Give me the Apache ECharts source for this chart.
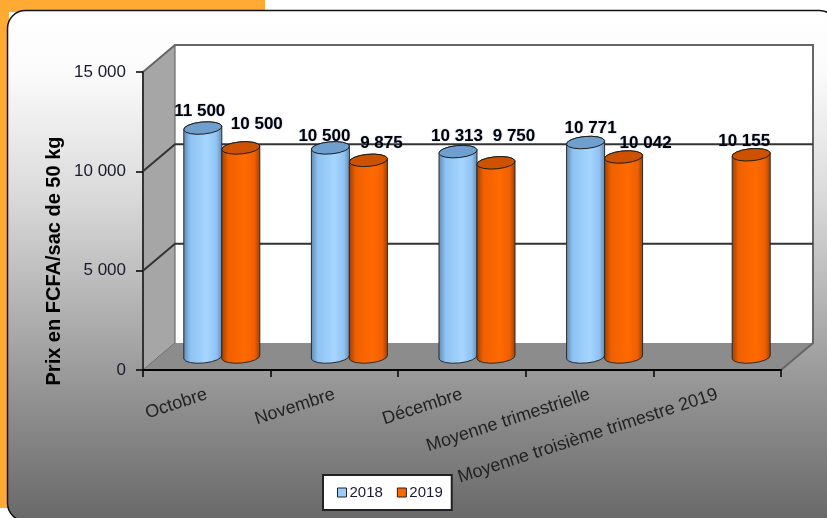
<!DOCTYPE html>
<html>
<head>
<meta charset="utf-8">
<title>Prix en FCFA/sac de 50 kg</title>
<script src="https://cdn.jsdelivr.net/npm/echarts@6/dist/echarts.min.js"></script>
<style>
html, body { margin: 0; padding: 0; background: #fff; }
#chart { width: 827px; height: 518px; }
</style>
</head>
<body>
<div id="chart"></div>
<script>
const categories = ["Octobre", "Novembre", "Décembre", "Moyenne trimestrielle", "Moyenne troisième trimestre 2019"];
const values2018 = [11500, 10500, 10313, 10771, null];
const values2019 = [10500, 9875, 9750, 10042, 10155];
const yTicks = [0, 5000, 10000, 15000];
const yTitle = "Prix en FCFA/sac de 50 kg";

// depth of the fake 3D box, in pixels
const DEPTH_X = 32;
const DEPTH_Y = 27;
const BAR_RX = 19;
const BAR_RY = 6;
const BAR_TILT = 2;

// hand placed labels, the original has them dragged around [dx, dy] from the top of the bar
const nudge2018 = [[-3, -17], [-6, -12], [-1, -15], [5, -14], [0, 0]];
const nudge2019 = [[16, -24], [13, -17], [18, -26], [22, -14], [-7, -13]];

function fmt(v) {
  return String(v).replace(/\B(?=(\d{3})+$)/g, " ");
}

function renderBox(params, api) {
  const r = params.coordSys;
  const x0 = r.x, x1 = r.x + r.width, top = r.y, bottom = r.y + r.height;
  const bx0 = x0 + DEPTH_X, bx1 = x1 + DEPTH_X;
  const children = [
    { type: "rect", shape: { x: bx0, y: top - DEPTH_Y, width: r.width, height: r.height },
      style: { fill: "#fff" } },
    { type: "polygon", shape: { points: [[x0, top], [bx0, top - DEPTH_Y], [bx0, bottom - DEPTH_Y], [x0, bottom]] },
      style: { fill: "#a6a6a6", stroke: "#555", lineWidth: 1 } },
    { type: "polygon", shape: { points: [[x0, bottom], [bx0, bottom - DEPTH_Y], [bx1, bottom - DEPTH_Y], [x1, bottom]] },
      style: { fill: "#8c8c8c" } },
    { type: "polyline", shape: { points: [[x0, top], [bx0, top - DEPTH_Y], [bx1, top - DEPTH_Y], [bx1, bottom - DEPTH_Y], [x1, bottom]] },
      style: { fill: "none", stroke: "#666", lineWidth: 2 } }
  ];
  yTicks.slice(1, -1).forEach(function (t) {
    const y = api.coord([0, t])[1];
    children.push({ type: "polyline",
      shape: { points: [[x0, y], [bx0, y - DEPTH_Y], [bx1, y - DEPTH_Y]] },
      style: { fill: "none", stroke: "#333", lineWidth: 2 } });
  });
  return { type: "group", children: children };
}

function cylinderRenderer(side, colors, nudge) {
  return function (params, api) {
    const v = api.value(1);
    if (v == null || isNaN(v)) return;
    const i = api.value(0);
    const c0 = api.coord([i, 0]);
    const c1 = api.coord([i, v]);
    const cx = c0[0] + DEPTH_X / 2 + side * BAR_RX - 1;
    const yBase = c0[1] - DEPTH_Y / 2 + 0.5;
    const yTop = c1[1] - DEPTH_Y / 2;
    const l = cx - BAR_RX, rt = cx + BAR_RX;
    const arc = "A" + BAR_RX + " " + BAR_RY + " -5 0 0 ";
    const body = "M" + l + " " + (yTop + BAR_TILT) +
      " L" + l + " " + (yBase + BAR_TILT) +
      " " + arc + rt + " " + (yBase - BAR_TILT) +
      " L" + rt + " " + (yTop - BAR_TILT) +
      " " + arc + l + " " + (yTop + BAR_TILT) + " Z";
    const cap = "M" + l + " " + (yTop + BAR_TILT) +
      " " + arc + rt + " " + (yTop - BAR_TILT) +
      " " + arc + l + " " + (yTop + BAR_TILT) + " Z";
    const n = nudge[i];
    return {
      type: "group",
      children: [
        { type: "path", shape: { pathData: body },
          style: {
            fill: new echarts.graphic.LinearGradient(0, 0, 1, 0, [
              { offset: 0, color: colors.edge },
              { offset: 0.18, color: colors.main },
              { offset: 0.6, color: colors.light },
              { offset: 0.85, color: colors.main },
              { offset: 1, color: colors.edge }
            ]),
            stroke: "#2b2b2b", lineWidth: 1
          } },
        { type: "path", shape: { pathData: cap },
          style: { fill: colors.cap, stroke: "#1c1c1c", lineWidth: 1 } },
        { type: "text", z2: 10,
          style: {
            x: cx + n[0], y: yTop + n[1], text: fmt(v),
            align: "center", verticalAlign: "middle",
            font: "bold 17px 'Liberation Sans'",
            fill: "#000",
            textShadowColor: "rgba(40,90,200,0.4)", textShadowBlur: 2
          } }
      ]
    };
  };
}

const chart = echarts.init(document.getElementById("chart"), null, { renderer: "canvas" });

const blue = { edge: "#5f87ad", main: "#8fc2f3", light: "#a6d6ff", cap: "#6f9fce" };
const orange = { edge: "#9a3f00", main: "#f06000", light: "#ff6a00", cap: "#cc5200" };

chart.setOption({
  animation: false,
  textStyle: { fontFamily: "Liberation Sans" },
  graphic: [
    { type: "rect", z: -10, shape: { x: 0, y: 0, width: 265, height: 12 }, style: { fill: "#ffab33" } },
    { type: "rect", z: -10, shape: { x: 0, y: 0, width: 9, height: 508 }, style: { fill: "#ffab33" } },
    { type: "rect", z: -9,
      shape: { x: 7.5, y: 10.5, width: 830, height: 510.5, r: 18 },
      style: {
        fill: new echarts.graphic.LinearGradient(0, 0, 0, 1, [
          { offset: 0, color: "#ffffff" },
          { offset: 0.12, color: "#fbfbfb" },
          { offset: 0.35, color: "#dcdcdc" },
          { offset: 0.55, color: "#b8b8b8" },
          { offset: 0.75, color: "#939393" },
          { offset: 1, color: "#686868" }
        ]),
        stroke: "#111", lineWidth: 1.5
      } },
    { type: "text", z: 5, x: 54, y: 261, rotation: Math.PI / 2,
      style: {
        text: yTitle, align: "center", verticalAlign: "middle",
        font: "bold 20px 'Liberation Sans'", fill: "#000"
      } }
  ],
  legend: {
    left: 323, top: 475,
    data: ["2018", "2019"],
    orient: "horizontal",
    backgroundColor: "#fff",
    borderColor: "#222",
    borderWidth: 2,
    borderRadius: 0,
    padding: [10, 9, 10, 14],
    itemGap: 14,
    itemWidth: 9,
    itemHeight: 9,
    icon: "rect",
    itemStyle: { borderColor: "#222", borderWidth: 1 },
    textStyle: { fontSize: 15, color: "#1a1a33", padding: [0, 0, 0, -2] }
  },
  grid: { left: 143, right: 46, top: 72, bottom: 148 },
  xAxis: {
    type: "category",
    data: categories,
    z: 2,
    axisLine: { lineStyle: { color: "#000", width: 2 } },
    axisTick: { show: true, length: 7, alignWithLabel: false, lineStyle: { color: "#000", width: 1.5 } },
    axisLabel: { interval: 0, rotate: 18, margin: 24, fontSize: 18, color: "#222" }
  },
  yAxis: {
    type: "value",
    min: 0, max: 15000, interval: 5000,
    z: 2,
    splitLine: { show: false },
    axisLine: { show: true, lineStyle: { color: "#333", width: 2 } },
    axisTick: { show: true, length: 7, lineStyle: { color: "#000", width: 1.5 } },
    axisLabel: { margin: 17, fontSize: 17, color: "#1a1a2e", formatter: fmt, padding: [2, 0, 0, 0] }
  },
  series: [
    { type: "custom", name: "box", z: 1, silent: true, data: [[0, 0]],
      encode: { x: 0, y: 1 }, renderItem: renderBox },
    { type: "custom", name: "2018", z: 3, silent: true,
      itemStyle: { color: "#99ccff" },
      data: values2018.map(function (v, i) { return [i, v]; }),
      encode: { x: 0, y: 1 }, renderItem: cylinderRenderer(-1, blue, nudge2018) },
    { type: "custom", name: "2019", z: 4, silent: true,
      itemStyle: { color: "#ff6600" },
      data: values2019.map(function (v, i) { return [i, v]; }),
      encode: { x: 0, y: 1 }, renderItem: cylinderRenderer(1, orange, nudge2019) }
  ]
});
</script>
</body>
</html>
